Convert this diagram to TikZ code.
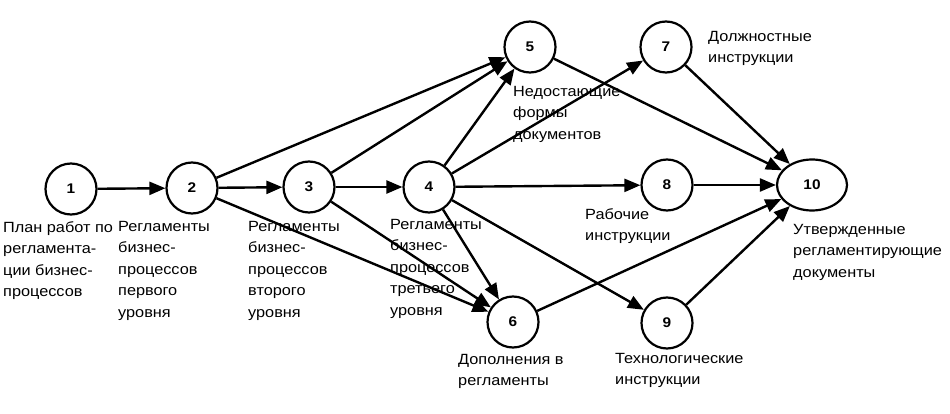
\documentclass[tikz,border=0pt]{standalone}
\usepackage{fontspec}
\setmainfont[FakeStretch=1.1]{Liberation Sans}
\usetikzlibrary{arrows.meta,shapes.geometric}
\begin{document}
\begin{tikzpicture}[x=1pt,y=-1pt,
  ev/.style={circle,draw,line width=2.2pt,minimum size=51pt,inner sep=0pt,font=\fontsize{14}{14}\selectfont\bfseries},
  evl/.style={ellipse,draw,line width=2.2pt,minimum width=70pt,minimum height=51pt,inner sep=0pt,font=\fontsize{14}{14}\selectfont\bfseries},
  lab/.style={anchor=north west,inner sep=0pt,align=left,font=\fontsize{14.8}{21.5}\selectfont},
  arr/.style={line width=2.4pt,-{Triangle[length=16pt,width=13pt]}}]
\useasboundingbox (0,0) rectangle (950,414);
\node[ev] (n1) at (71,189) {1};
\node[ev] (n2) at (192,188) {2};
\node[ev] (n3) at (309,187) {3};
\node[ev] (n4) at (429,187) {4};
\node[ev] (n5) at (530,47) {5};
\node[ev] (n7) at (666,47) {7};
\node[ev] (n8) at (667,185) {8};
\node[evl] (n10) at (812,185) {10};
\node[ev] (n9) at (667,323) {9};
\node[ev] (n6) at (513,322) {6};

\draw[arr] (n1) -- (n2);
\draw[arr] (n2) -- (n3);
\draw[arr] (n3) -- (n4);
\draw[arr] (n4) -- (n8);
\draw[arr] (n8) -- (n10);
\draw[arr] (n2) -- (n5);
\draw[arr] (n3) -- (n5);
\draw[arr] (n4) -- (n5);
\draw[arr] (n4) -- (n7);
\draw[arr] (n2) -- (n6);
\draw[arr] (n3) -- (n6);
\draw[arr] (n4) -- (n6);
\draw[arr] (n4) -- (n9);
\draw[arr] (n5) -- (n10);
\draw[arr] (n7) -- (n10);
\draw[arr] (n6) -- (n10);
\draw[arr] (n9) -- (n10);

\node[lab] (t1) at (3,221) {План работ по\\регламента-\\ции бизнес-\\процессов};
\node[lab] (t2) at (118,221) {Регламенты\\бизнес-\\процессов\\первого\\уровня};
\node[lab] (t3) at (248,221) {Регламенты\\бизнес-\\процессов\\второго\\уровня};
\node[lab] (t4) at (390,219) {Регламенты\\бизнес-\\процессов\\третьего\\уровня};
\node[lab] (t5) at (513,86) {Недостающие\\формы\\документов};
\node[lab] (t7) at (708,31) {Должностные\\инструкции};
\node[lab] (t8) at (585,208) {Рабочие\\инструкции};
\node[lab] (t10) at (793,224) {Утвержденные\\регламентирующие\\документы};
\node[lab] (t9) at (615,353) {Технологические\\инструкции};
\node[lab] (t6) at (458,354) {Дополнения в\\регламенты};
\end{tikzpicture}
\end{document}
